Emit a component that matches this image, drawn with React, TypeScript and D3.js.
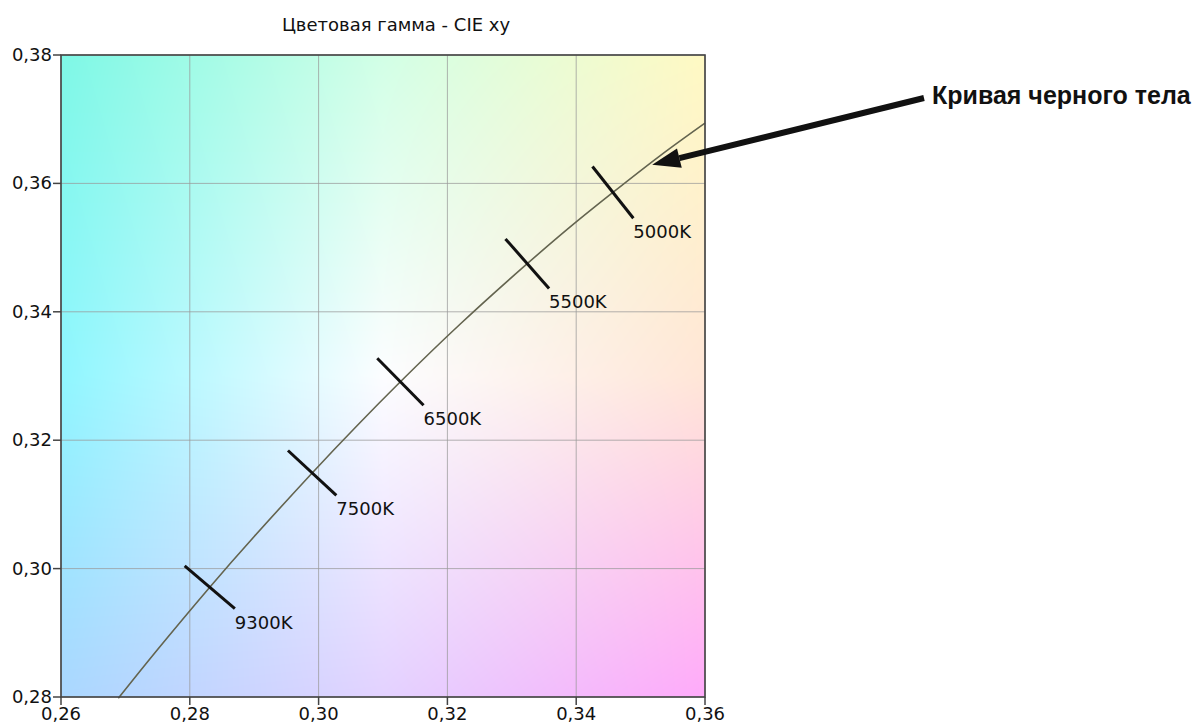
import React, { useMemo } from "react";
import * as d3 from "d3";

const TITLE = "Цветовая гамма - CIE xy";
const ANNOTATION = "Кривая черного тела";

const xTicks = [0.26, 0.28, 0.3, 0.32, 0.34, 0.36];
const yTicks = [0.28, 0.3, 0.32, 0.34, 0.36, 0.38];

// Curve (x, y chromaticity)
const curveX = [0.2689, 0.275, 0.2831, 0.29, 0.299, 0.306, 0.3127, 0.322, 0.3324, 0.34, 0.3457, 0.353, 0.36];
const curveY = [0.2798, 0.2874, 0.2971, 0.305, 0.3149, 0.3223, 0.3291, 0.3381, 0.3475, 0.354, 0.3586, 0.3643, 0.3694];

// Temperature markers
const tempLabels = ["9300K", "7500K", "6500K", "5500K", "5000K"];
const tempX = [0.2831, 0.299, 0.3127, 0.3324, 0.3457];
const tempY = [0.2971, 0.3149, 0.3291, 0.3475, 0.3586];

// Arrow target on the curve
const arrowTarget = [0.3518, 0.3629];

// Background colour samples on a 3x3 grid
const bgX = [0.26, 0.31, 0.36];
const bgY = [0.38, 0.33, 0.28];
const bgColors = [
  ["#7ef8e6", "#d2ffe6", "#fff9c3"],
  ["#8ff6ff", "#fcfdff", "#ffe6d7"],
  ["#aad7ff", "#e3d2ff", "#ffaafa"],
];

const W = 1196;
const H = 725;
const L = 61, R = 705, T = 55, B = 697;

function useBackground(): string {
  return useMemo(() => {
    if (typeof document === "undefined") return "";
    const w = R - L, h = B - T;
    const c = document.createElement("canvas");
    c.width = w;
    c.height = h;
    const ctx = c.getContext("2d");
    if (!ctx) return "";
    const img = ctx.createImageData(w, h);
    const cols = bgColors.map((row) => row.map((s) => d3.rgb(s)));
    for (let j = 0; j < h; j++) {
      const v = (j / (h - 1)) * (bgY.length - 1);
      const j0 = Math.min(Math.floor(v), bgY.length - 2);
      const fv = v - j0;
      for (let i = 0; i < w; i++) {
        const u = (i / (w - 1)) * (bgX.length - 1);
        const i0 = Math.min(Math.floor(u), bgX.length - 2);
        const fu = u - i0;
        const a = cols[j0][i0], b = cols[j0][i0 + 1], cc = cols[j0 + 1][i0], dd = cols[j0 + 1][i0 + 1];
        const k = (j * w + i) * 4;
        const mix = (p: number, q: number, r: number, s: number) =>
          (p * (1 - fu) + q * fu) * (1 - fv) + (r * (1 - fu) + s * fu) * fv;
        img.data[k] = mix(a.r, b.r, cc.r, dd.r);
        img.data[k + 1] = mix(a.g, b.g, cc.g, dd.g);
        img.data[k + 2] = mix(a.b, b.b, cc.b, dd.b);
        img.data[k + 3] = 255;
      }
    }
    ctx.putImageData(img, 0, 0);
    return c.toDataURL();
  }, []);
}

export default function App() {
  const x = d3.scaleLinear().domain([0.26, 0.36]).range([L, R]);
  const y = d3.scaleLinear().domain([0.28, 0.38]).range([B, T]);
  const bg = useBackground();
  const fmt = (v: number) => v.toFixed(2).replace(".", ",");

  const pts: [number, number][] = curveX.map((cx, i) => [x(cx), y(curveY[i])]);
  const line = d3.line().curve(d3.curveNatural)(pts) || "";

  const half = 33;
  const markers = tempLabels.map((lab, i) => {
    const px = x(tempX[i]);
    const py = y(tempY[i]);
    const k = curveX.findIndex((v) => Math.abs(v - tempX[i]) < 1e-6);
    const p0 = pts[Math.max(0, k - 1)];
    const p1 = pts[Math.min(pts.length - 1, k + 1)];
    let dx = p1[0] - p0[0], dy = p1[1] - p0[1];
    const len = Math.hypot(dx, dy);
    dx /= len; dy /= len;
    let nx = -dy, ny = dx;
    if (nx < 0) { nx = -nx; ny = -ny; }
    return {
      lab,
      x1: px - nx * half, y1: py - ny * half,
      x2: px + nx * half, y2: py + ny * half,
    };
  });

  const tipX = x(arrowTarget[0]);
  const tipY = y(arrowTarget[1]);
  const tailX = 924, tailY = 98;
  const ang = Math.atan2(tipY - tailY, tipX - tailX);
  const headLen = 28, headHalf = 10;
  const bx = tipX - Math.cos(ang) * headLen;
  const by = tipY - Math.sin(ang) * headLen;
  const head = [
    [tipX, tipY],
    [bx + Math.sin(ang) * headHalf, by - Math.cos(ang) * headHalf],
    [bx - Math.sin(ang) * headHalf, by + Math.cos(ang) * headHalf],
  ].map((p) => p.join(",")).join(" ");

  const font = "'DejaVu Sans', Verdana, sans-serif";

  return (
    <svg width={W} height={H} style={{ position: "absolute", left: 0, top: 0, background: "#fff" }}>
      <text x={396} y={31} textAnchor="middle" fontFamily={font} fontSize={18} fill="#111">
        {TITLE}
      </text>
      {bg && <image href={bg} x={L} y={T} width={R - L} height={B - T} preserveAspectRatio="none" />}
      {xTicks.map((t) => (
        <line key={"gx" + t} x1={x(t)} x2={x(t)} y1={T} y2={B} stroke="#9a9a9a" strokeOpacity={0.75} strokeWidth={1} />
      ))}
      {yTicks.map((t) => (
        <line key={"gy" + t} x1={L} x2={R} y1={y(t)} y2={y(t)} stroke="#9a9a9a" strokeOpacity={0.75} strokeWidth={1} />
      ))}
      <path d={line} fill="none" stroke="#64644f" strokeWidth={1.6} />
      {markers.map((m) => (
        <g key={m.lab}>
          <line x1={m.x1} y1={m.y1} x2={m.x2} y2={m.y2} stroke="#111" strokeWidth={3} />
          <text x={m.x2} y={m.y2 + 20} fontFamily={font} fontSize={18} fill="#111">
            {m.lab}
          </text>
        </g>
      ))}
      <rect x={L} y={T} width={R - L} height={B - T} fill="none" stroke="#444" strokeWidth={1.6} />
      {xTicks.map((t) => (
        <g key={"tx" + t}>
          <line x1={x(t)} x2={x(t)} y1={B} y2={B + 8} stroke="#444" strokeWidth={1.5} />
          <text x={x(t)} y={720} textAnchor="middle" fontFamily={font} fontSize={18} fill="#111">
            {fmt(t)}
          </text>
        </g>
      ))}
      {yTicks.map((t) => (
        <g key={"ty" + t}>
          <line x1={L - 8} x2={L} y1={y(t)} y2={y(t)} stroke="#444" strokeWidth={1.5} />
          <text x={52} y={y(t) + 6} textAnchor="end" fontFamily={font} fontSize={18} fill="#111">
            {fmt(t)}
          </text>
        </g>
      ))}
      <line x1={tailX} y1={tailY} x2={bx} y2={by} stroke="#111" strokeWidth={6} />
      <polygon points={head} fill="#111" />
      <text x={932} y={104} fontFamily="'Liberation Sans', Arial, sans-serif" fontWeight="bold" fontSize={25} fill="#111">
        {ANNOTATION}
      </text>
    </svg>
  );
}
